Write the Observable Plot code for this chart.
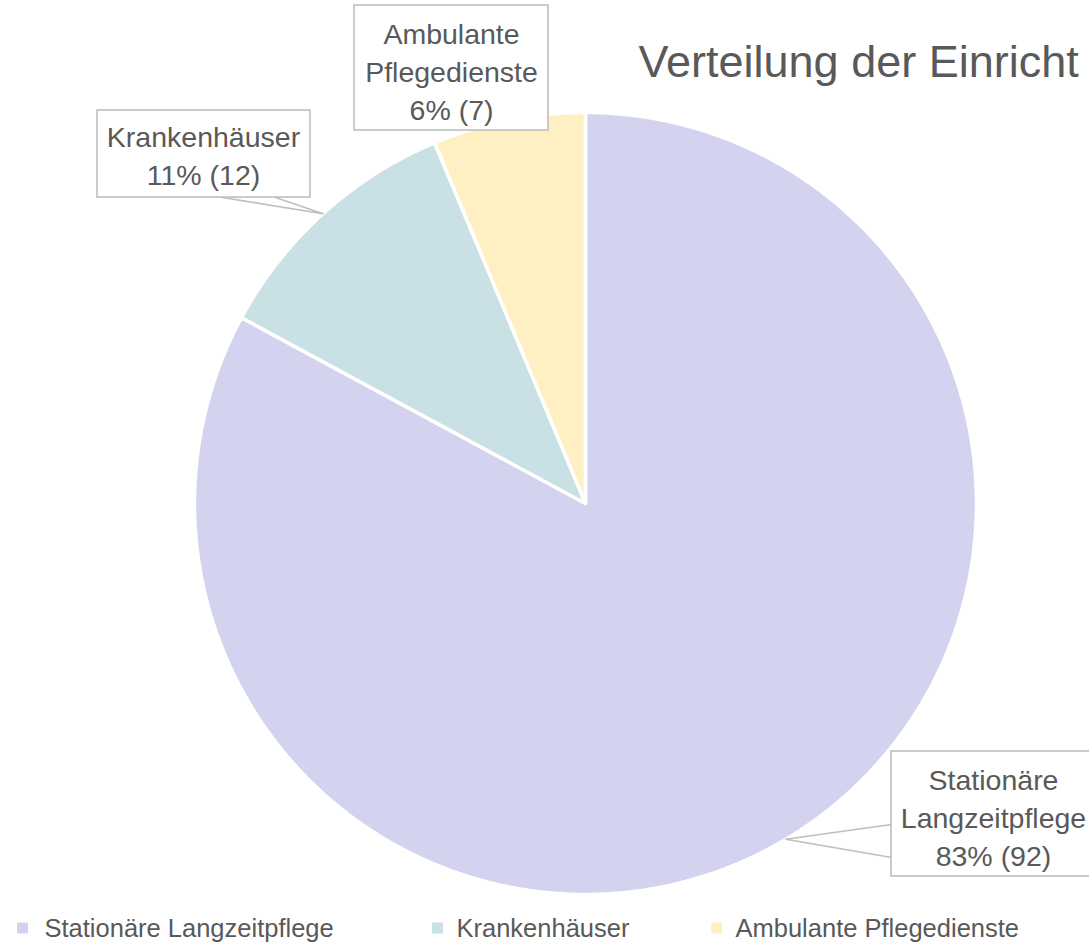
<!DOCTYPE html>
<html>
<head>
<meta charset="utf-8">
<script src="https://cdn.jsdelivr.net/npm/d3@7"></script>
<script src="https://cdn.jsdelivr.net/npm/@observablehq/plot@0.6"></script>
<style>
  html, body { margin: 0; padding: 0; background: #ffffff; }
  #chart svg { display: block; overflow: hidden; }
</style>
</head>
<body>
<div id="chart"></div>
<script>
// ---- data ----
const categories = ["Stationäre Langzeitpflege", "Krankenhäuser", "Ambulante Pflegedienste"];
const counts = [92, 12, 7];
const labelNames = ["Stationäre\nLangzeitpflege", "Krankenhäuser", "Ambulante\nPflegedienste"];
const colors = ["#D3D3F0", "#C9E1E4", "#FFF0C4"];
const title = "Verteilung der Einricht";

// ---- layout (pixels) ----
const W = 1089, H = 946;
const cx = 585, cy = 503, R = 391;
const textColor = "#595959";
const boxStroke = "#BFBFBF";
const font = "'Liberation Sans', Arial, sans-serif";
// label boxes: [x1, y1, x2, y2], text centre, leader base points (or null)
const boxLayout = [
  {box: [891, 751, 1095, 876], tx: 993, ty: 815, base: [[891, 824], [891, 857]]},
  {box: [97, 110, 310, 197], tx: 203, ty: 153, base: [[222, 197], [275, 197]]},
  {box: [354, 5, 548, 130], tx: 451, ty: 69, base: null}
];
const legendLayout = [
  {sx: 17, tx: 44},
  {sx: 432, tx: 456},
  {sx: 711, tx: 735}
];
const legendY = 928, sw = 11;

// ---- derived geometry ----
const total = d3.sum(counts);
const arcs = d3.pie().sort(null).value(d => d)(counts);
const pt = (a, r) => [cx + r * Math.sin(a), cy - r * Math.cos(a)];

const slices = arcs.map((a, i) => {
  const pts = [{x: cx, y: cy}];
  const n = Math.max(2, Math.ceil((a.endAngle - a.startAngle) / (Math.PI / 360)));
  for (let k = 0; k <= n; k++) {
    const ang = a.startAngle + (a.endAngle - a.startAngle) * k / n;
    const [x, y] = pt(ang, R);
    pts.push({x, y});
  }
  return pts;
});

const labels = arcs.map((a, i) => {
  const pct = Math.round(counts[i] / total * 100);
  return {
    text: `${labelNames[i]}\n${pct}% (${counts[i]})`,
    ...boxLayout[i],
    tip: pt((a.startAngle + a.endAngle) / 2, R)
  };
});

const marks = [];
// pie slices
slices.forEach((pts, i) => {
  marks.push(Plot.line(pts, {x: "x", y: "y", curve: "linear-closed", fill: colors[i], stroke: "#ffffff", strokeWidth: 3.5, strokeLinejoin: "round"}));
});
// leader wedges
labels.forEach(l => {
  if (l.base) {
    const pts = [{x: l.base[0][0], y: l.base[0][1]}, {x: l.tip[0], y: l.tip[1]}, {x: l.base[1][0], y: l.base[1][1]}];
    marks.push(Plot.line(pts, {x: "x", y: "y", stroke: boxStroke, strokeWidth: 1.6}));
  }
});
// label boxes
marks.push(Plot.rect(labels, {x1: d => d.box[0], y1: d => d.box[1], x2: d => d.box[2], y2: d => d.box[3], fill: "#ffffff", stroke: boxStroke, strokeWidth: 1.6}));
marks.push(Plot.text(labels, {x: "tx", y: "ty", text: "text", fontSize: 28.5, lineHeight: 1.34, fill: textColor, textAnchor: "middle", fontFamily: font}));
// title
marks.push(Plot.text([title], {x: () => 638, y: () => 62, text: d => d, fontSize: 45, fill: textColor, textAnchor: "start", fontFamily: font}));
// legend
const legend = categories.map((c, i) => ({c, color: colors[i], ...legendLayout[i]}));
marks.push(Plot.rect(legend, {x1: "sx", x2: d => d.sx + sw, y1: legendY - sw / 2, y2: legendY + sw / 2, fill: "color"}));
marks.push(Plot.text(legend, {x: "tx", y: legendY, text: "c", fontSize: 25.5, fill: textColor, textAnchor: "start", fontFamily: font}));

const chart = Plot.plot({
  width: W, height: H,
  margin: 0,
  x: {domain: [0, W], range: [0, W], axis: null},
  y: {domain: [0, H], range: [0, H], axis: null},
  color: {type: "identity"},
  style: {background: "#ffffff", fontFamily: font},
  marks
});
document.getElementById("chart").appendChild(chart);
</script>
</body>
</html>
